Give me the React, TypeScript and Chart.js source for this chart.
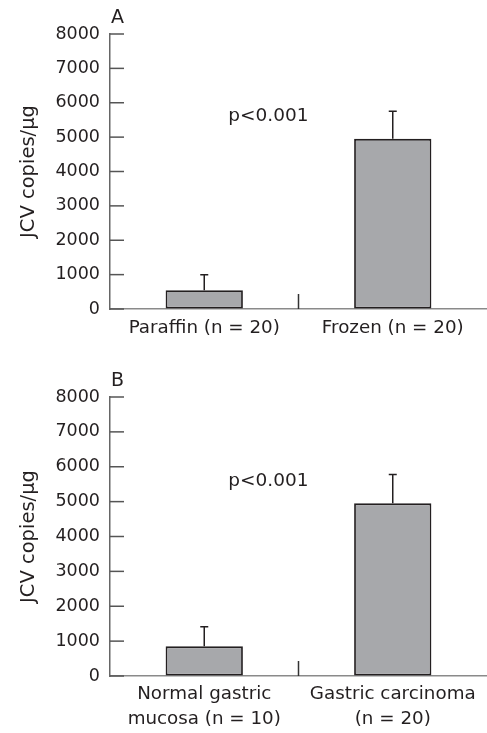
import React, { useEffect, useRef } from "react";
import { Chart, registerables } from "chart.js";
Chart.register(...registerables);

const categoriesA: (string | string[])[] = ["Paraffin (n = 20)", "Frozen (n = 20)"];
const meansA = [545, 4950];
const errTopA = [1000, 5750];

const categoriesB: (string | string[])[] = [["Normal gastric", "mucosa (n = 10)"], ["Gastric carcinoma", "(n = 20)"]];
const meansB = [850, 4950];
const errTopB = [1410, 5780];

const yMin = 0;
const yMax = 8000;
const yStep = 1000;
const yTitle = "JCV copies/\u00b5g";
const pText = "p<0.001";

const FONT = "'DejaVu Sans', sans-serif";
const TEXT = "#231f20";

type PanelProps = {
  letter: string;
  labels: (string | string[])[];
  means: number[];
  errTop: number[];
  height: number;
  top: number;
  padTop: number;
  xHeight: number;
  xPad: number;
  lineHeight: number;
};

function Panel(p: PanelProps) {
  const ref = useRef<HTMLCanvasElement>(null);
  useEffect(() => {
    const deco = {
      id: "deco",
      afterDatasetsDraw(chart: any) {
        const ctx = chart.ctx;
        const x = chart.scales.x;
        const y = chart.scales.y;
        const area = chart.chartArea;
        ctx.save();
        // error bars
        ctx.strokeStyle = TEXT;
        ctx.lineWidth = 1.5;
        p.means.forEach((m, i) => {
          const cx = x.getPixelForValue(i);
          const y0 = y.getPixelForValue(m);
          const y1 = y.getPixelForValue(p.errTop[i]);
          ctx.beginPath();
          ctx.moveTo(cx, y0);
          ctx.lineTo(cx, y1);
          ctx.moveTo(cx - 4, y1);
          ctx.lineTo(cx + 4, y1);
          ctx.stroke();
        });
        // inner y ticks
        ctx.strokeStyle = "#555";
        ctx.lineWidth = 1.5;
        for (let v = yMin; v <= yMax; v += yStep) {
          const py = y.getPixelForValue(v);
          ctx.beginPath();
          ctx.moveTo(area.left, py);
          ctx.lineTo(area.left + 14, py);
          ctx.stroke();
        }
        // category separator
        const sx = x.getPixelForValue(0.5);
        ctx.strokeStyle = "#333";
        ctx.beginPath();
        ctx.moveTo(sx, area.bottom);
        ctx.lineTo(sx, area.bottom - 15);
        ctx.stroke();
        // p value
        ctx.fillStyle = TEXT;
        ctx.font = "18.5px " + FONT;
        ctx.textAlign = "center";
        ctx.textBaseline = "middle";
        ctx.fillText(pText, x.getPixelForValue(0.34), y.getPixelForValue(5600));
        // panel letter
        ctx.font = "19px " + FONT;
        ctx.textAlign = "left";
        ctx.fillText(p.letter, area.left + 1, area.top - 16);
        ctx.restore();
      },
    };
    const chart = new Chart(ref.current!, {
      type: "bar",
      data: {
        labels: p.labels,
        datasets: [
          {
            data: p.means,
            backgroundColor: "#a7a8ab",
            borderColor: TEXT,
            borderWidth: 1.8,
            borderSkipped: false,
            barPercentage: 0.41,
            categoryPercentage: 1,
          },
        ],
      },
      options: {
        animation: false,
        responsive: false,
        maintainAspectRatio: false,
        layout: { padding: { top: p.padTop, left: 0, right: 0, bottom: 0 } },
        plugins: { legend: { display: false }, tooltip: { enabled: false } },
        scales: {
          x: {
            grid: { drawOnChartArea: false, drawTicks: false },
            border: { color: "#8a8a8a", width: 1.5 },
            ticks: {
              color: TEXT,
              font: { family: FONT, size: 18.3, lineHeight: p.lineHeight },
              padding: p.xPad,
              maxRotation: 0,
              autoSkip: false,
            },
            afterFit: (s: any) => {
              s.height = p.xHeight;
            },
          },
          y: {
            min: yMin,
            max: yMax,
            grid: { drawOnChartArea: false, drawTicks: false },
            border: { color: "#666", width: 1.5 },
            ticks: {
              stepSize: yStep,
              color: TEXT,
              font: { family: FONT, size: 17.5 },
              padding: 10,
              callback: (v: any) => String(v),
            },
            title: {
              display: true,
              text: yTitle,
              color: TEXT,
              font: { family: FONT, size: 19.5 },
              padding: { top: 17, bottom: 0 },
            },
            afterFit: (s: any) => {
              s.width = 110;
            },
          },
        },
      },
      plugins: [deco],
    });
    return () => chart.destroy();
  }, []);
  return (
    <canvas
      ref={ref}
      width={487}
      height={p.height}
      style={{ position: "absolute", left: 0, top: p.top, width: 487, height: p.height }}
    />
  );
}

export default function App() {
  return (
    <div style={{ position: "absolute", left: 0, top: 0, width: 487, height: 733, background: "#fff" }}>
      <Panel letter="A" labels={categoriesA} means={meansA} errTop={errTopA} height={360} top={0} padTop={34} xHeight={51} xPad={8} lineHeight={1.2} />
      <Panel letter="B" labels={categoriesB} means={meansB} errTop={errTopB} height={373} top={360} padTop={37} xHeight={57} xPad={5} lineHeight={1.4} />
    </div>
  );
}
